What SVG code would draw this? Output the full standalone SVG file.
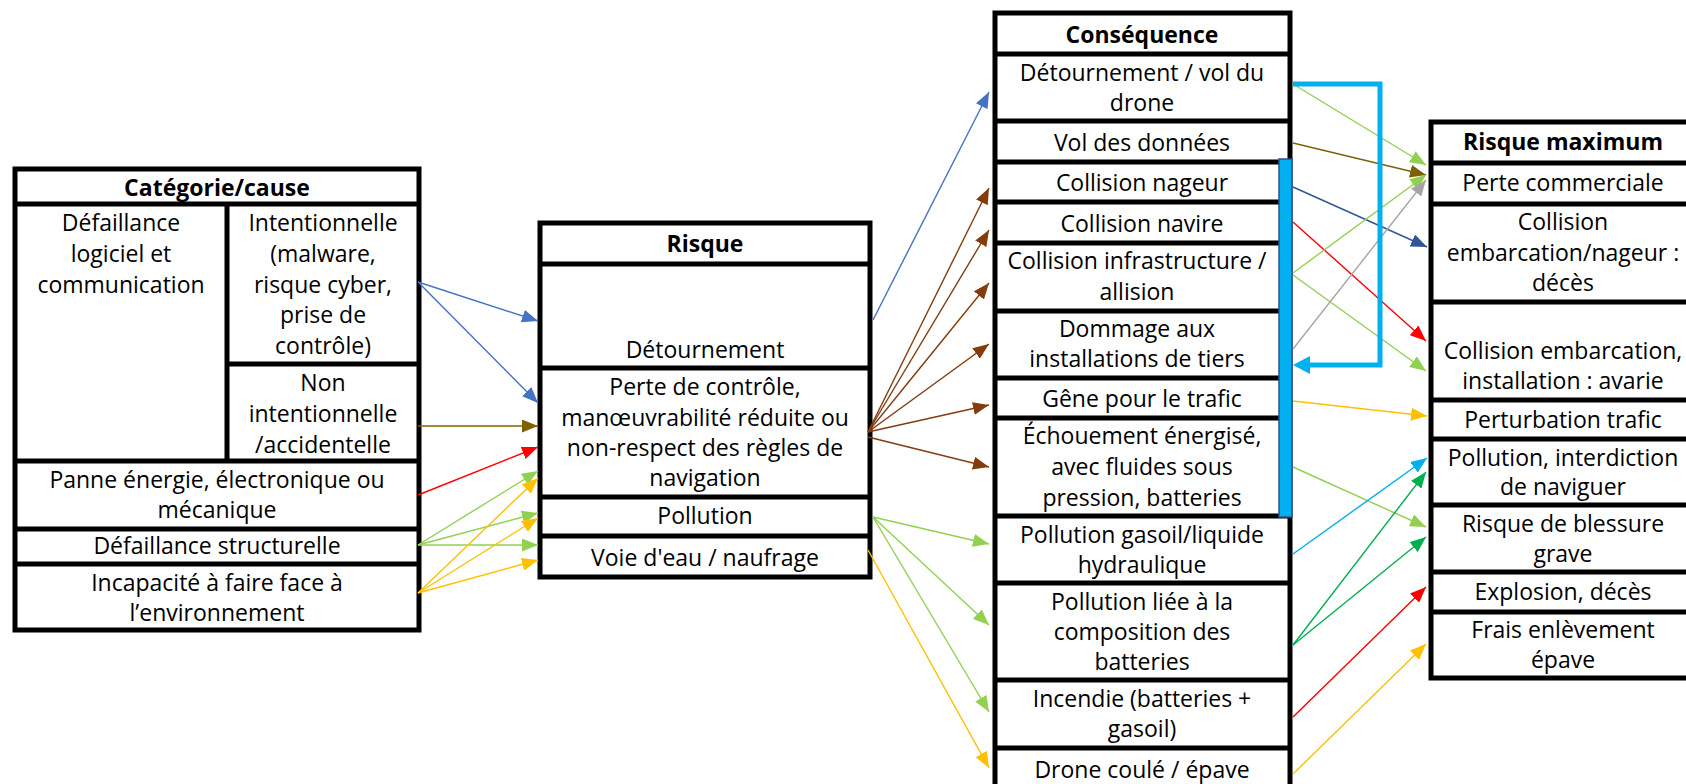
<svg xmlns="http://www.w3.org/2000/svg" width="1686" height="784" viewBox="0 0 1686 784">
<style>
text{font-family:"Open Sans","Noto Sans",sans-serif;font-size:23px;fill:#000;text-anchor:middle}
.h{font-weight:bold;font-size:23px}
.box{fill:#fff;stroke:#000;stroke-width:5}
.ln{stroke:#000;stroke-width:5;fill:none}
.c{fill:none;stroke-width:1.4}
</style>
<defs>
<marker id="a-blue" markerUnits="userSpaceOnUse" markerWidth="16" markerHeight="13" refX="16" refY="6.5" orient="auto"><path d="M0,0 L16,6.5 L0,13 z" fill="#4472C4"/></marker>
<marker id="a-olive" markerUnits="userSpaceOnUse" markerWidth="16" markerHeight="13" refX="16" refY="6.5" orient="auto"><path d="M0,0 L16,6.5 L0,13 z" fill="#7F6000"/></marker>
<marker id="a-red" markerUnits="userSpaceOnUse" markerWidth="16" markerHeight="13" refX="16" refY="6.5" orient="auto"><path d="M0,0 L16,6.5 L0,13 z" fill="#FF0000"/></marker>
<marker id="a-green" markerUnits="userSpaceOnUse" markerWidth="16" markerHeight="13" refX="16" refY="6.5" orient="auto"><path d="M0,0 L16,6.5 L0,13 z" fill="#92D050"/></marker>
<marker id="a-yellow" markerUnits="userSpaceOnUse" markerWidth="16" markerHeight="13" refX="16" refY="6.5" orient="auto"><path d="M0,0 L16,6.5 L0,13 z" fill="#FFC000"/></marker>
<marker id="a-brown" markerUnits="userSpaceOnUse" markerWidth="16" markerHeight="13" refX="16" refY="6.5" orient="auto"><path d="M0,0 L16,6.5 L0,13 z" fill="#843C0C"/></marker>
<marker id="a-dblue" markerUnits="userSpaceOnUse" markerWidth="16" markerHeight="13" refX="16" refY="6.5" orient="auto"><path d="M0,0 L16,6.5 L0,13 z" fill="#2F5597"/></marker>
<marker id="a-gray" markerUnits="userSpaceOnUse" markerWidth="16" markerHeight="13" refX="16" refY="6.5" orient="auto"><path d="M0,0 L16,6.5 L0,13 z" fill="#A5A5A5"/></marker>
<marker id="a-lblue" markerUnits="userSpaceOnUse" markerWidth="16" markerHeight="13" refX="16" refY="6.5" orient="auto"><path d="M0,0 L16,6.5 L0,13 z" fill="#00B0F0"/></marker>
<marker id="a-dgreen" markerUnits="userSpaceOnUse" markerWidth="16" markerHeight="13" refX="16" refY="6.5" orient="auto"><path d="M0,0 L16,6.5 L0,13 z" fill="#00B050"/></marker>
<marker id="a-fb" markerUnits="userSpaceOnUse" markerWidth="17" markerHeight="18" refX="0" refY="9" orient="auto"><path d="M0,0 L17,9 L0,18 z" fill="#00B0F0"/></marker>
</defs>

<g id="table-cause">
<rect class="box" x="15" y="169" width="404" height="461"/>
<path class="ln" d="M15,204H419M227,204V461M227,364H419M15,461H419M15,529H419M15,564H419"/>
<g id="cause-header"><text class="h" x="217" y="196">Catégorie/cause</text></g>
<g id="cause-logiciel"><text x="121" y="231">Défaillance</text><text x="121" y="262">logiciel et</text><text x="121" y="293">communication</text></g>
<g id="cause-intentionnelle"><text x="323" y="231">Intentionnelle</text><text x="323" y="262">(malware,</text><text x="323" y="293">risque cyber,</text><text x="323" y="323">prise de</text><text x="323" y="354">contrôle)</text></g>
<g id="cause-non-intentionnelle"><text x="323" y="391">Non</text><text x="323" y="422">intentionnelle</text><text x="323" y="453">/accidentelle</text></g>
<g id="cause-panne"><text x="217" y="488">Panne énergie, électronique ou</text><text x="217" y="518">mécanique</text></g>
<g id="cause-structurelle"><text x="217" y="554">Défaillance structurelle</text></g>
<g id="cause-environnement"><text x="217" y="591">Incapacité à faire face à</text><text x="217" y="621">l’environnement</text></g>
</g>

<g id="table-risque">
<rect class="box" x="540" y="223" width="330" height="354"/>
<path class="ln" d="M540,264H870M540,368H870M540,497H870M540,536H870"/>
<g id="risque-header"><text class="h" x="705" y="252">Risque</text></g>
<g id="risque-detournement"><text x="705" y="358">Détournement</text></g>
<g id="risque-perte"><text x="705" y="395">Perte de contrôle,</text><text x="705" y="426">manœuvrabilité réduite ou</text><text x="705" y="456">non-respect des règles de</text><text x="705" y="486">navigation</text></g>
<g id="risque-pollution"><text x="705" y="524">Pollution</text></g>
<g id="risque-voie"><text x="705" y="566">Voie d'eau / naufrage</text></g>
</g>

<g id="table-consequence">
<rect class="box" x="995" y="13" width="295" height="800"/>
<path class="ln" d="M995,54H1290M995,121H1290M995,162H1290M995,202H1290M995,243H1290M995,311H1290M995,378H1290M995,418H1290M995,516H1290M995,583H1290M995,680H1290M995,748H1290"/>
<g id="cons-header"><text class="h" x="1142" y="43">Conséquence</text></g>
<g id="cons-detournement"><text x="1142" y="81">Détournement / vol du</text><text x="1142" y="111">drone</text></g>
<g id="cons-vol-donnees"><text x="1142" y="151">Vol des données</text></g>
<g id="cons-collision-nageur"><text x="1142" y="191">Collision nageur</text></g>
<g id="cons-collision-navire"><text x="1142" y="232">Collision navire</text></g>
<g id="cons-collision-infra"><text x="1137" y="269">Collision infrastructure /</text><text x="1137" y="300">allision</text></g>
<g id="cons-dommage"><text x="1137" y="337">Dommage aux</text><text x="1137" y="367">installations de tiers</text></g>
<g id="cons-gene"><text x="1142" y="407">Gêne pour le trafic</text></g>
<g id="cons-echouement"><text x="1142" y="444">Échouement énergisé,</text><text x="1142" y="475">avec fluides sous</text><text x="1142" y="506">pression, batteries</text></g>
<g id="cons-pollution-gasoil"><text x="1142" y="543">Pollution gasoil/liquide</text><text x="1142" y="573">hydraulique</text></g>
<g id="cons-pollution-batteries"><text x="1142" y="610">Pollution liée à la</text><text x="1142" y="640">composition des</text><text x="1142" y="670">batteries</text></g>
<g id="cons-incendie"><text x="1142" y="707">Incendie (batteries +</text><text x="1142" y="737">gasoil)</text></g>
<g id="cons-epave"><text x="1142" y="778">Drone coulé / épave</text></g>
<rect id="cons-bar" x="1279" y="159" width="13" height="358" fill="#00B0F0" stroke="#2F528F" stroke-width="1.5"/>
</g>

<g id="table-risque-max">
<rect class="box" x="1431" y="122" width="270" height="556"/>
<path class="ln" d="M1431,163H1701M1431,204H1701M1431,302H1701M1431,400H1701M1431,439H1701M1431,505H1701M1431,572H1701M1431,612H1701"/>
<g id="rmax-header"><text class="h" x="1563" y="150">Risque maximum</text></g>
<g id="rmax-perte"><text x="1563" y="191">Perte commerciale</text></g>
<g id="rmax-deces"><text x="1563" y="230">Collision</text><text x="1563" y="261">embarcation/nageur :</text><text x="1563" y="291">décès</text></g>
<g id="rmax-avarie"><text x="1563" y="359">Collision embarcation,</text><text x="1563" y="389">installation : avarie</text></g>
<g id="rmax-trafic"><text x="1563" y="428">Perturbation trafic</text></g>
<g id="rmax-pollution"><text x="1563" y="466">Pollution, interdiction</text><text x="1563" y="495">de naviguer</text></g>
<g id="rmax-blessure"><text x="1563" y="532">Risque de blessure</text><text x="1563" y="562">grave</text></g>
<g id="rmax-explosion"><text x="1563" y="600">Explosion, décès</text></g>
<g id="rmax-epave"><text x="1563" y="638">Frais enlèvement</text><text x="1563" y="668">épave</text></g>
</g>

<g id="connectors">
<path class="c" stroke="#4472C4" marker-end="url(#a-blue)" d="M418,282L538,321"/>
<path class="c" stroke="#4472C4" marker-end="url(#a-blue)" d="M418,282L538,403"/>
<path class="c" stroke="#7F6000" marker-end="url(#a-olive)" d="M418,426L538,426"/>
<path class="c" stroke="#FF0000" marker-end="url(#a-red)" d="M418,495L538,447"/>
<path class="c" stroke="#92D050" marker-end="url(#a-green)" d="M418,545L538,471"/>
<path class="c" stroke="#92D050" marker-end="url(#a-green)" d="M418,545L538,513"/>
<path class="c" stroke="#92D050" marker-end="url(#a-green)" d="M418,545L538,545"/>
<path class="c" stroke="#FFC000" marker-end="url(#a-yellow)" d="M418,593L538,478"/>
<path class="c" stroke="#FFC000" marker-end="url(#a-yellow)" d="M418,593L538,518"/>
<path class="c" stroke="#FFC000" marker-end="url(#a-yellow)" d="M418,593L538,560"/>

<path class="c" stroke="#4472C4" marker-end="url(#a-blue)" d="M873,320L989,92"/>
<path class="c" stroke="#843C0C" marker-end="url(#a-brown)" d="M868,432L989,188"/>
<path class="c" stroke="#843C0C" marker-end="url(#a-brown)" d="M868,432L989,230"/>
<path class="c" stroke="#843C0C" marker-end="url(#a-brown)" d="M868,432L989,283"/>
<path class="c" stroke="#843C0C" marker-end="url(#a-brown)" d="M868,432L989,344"/>
<path class="c" stroke="#843C0C" marker-end="url(#a-brown)" d="M868,432L989,405"/>
<path class="c" stroke="#843C0C" marker-end="url(#a-brown)" d="M868,437L989,467"/>
<path class="c" stroke="#92D050" marker-end="url(#a-green)" d="M873,517L989,544"/>
<path class="c" stroke="#92D050" marker-end="url(#a-green)" d="M873,517L989,625"/>
<path class="c" stroke="#92D050" marker-end="url(#a-green)" d="M873,517L989,712"/>
<path class="c" stroke="#FFC000" marker-end="url(#a-yellow)" d="M868,550L989,768"/>

<path class="c" stroke="#92D050" marker-end="url(#a-green)" d="M1293,84L1426,165"/>
<path class="c" stroke="#7F6000" marker-end="url(#a-olive)" d="M1293,143L1426,175"/>
<path class="c" stroke="#2F5597" marker-end="url(#a-dblue)" d="M1293,187L1427,247"/>
<path class="c" stroke="#FF0000" marker-end="url(#a-red)" d="M1293,222L1426,341"/>
<path class="c" stroke="#92D050" marker-end="url(#a-green)" d="M1293,273L1426,175"/>
<path class="c" stroke="#92D050" marker-end="url(#a-green)" d="M1293,275L1426,371"/>
<path class="c" stroke="#A5A5A5" marker-end="url(#a-gray)" d="M1293,349L1426,180"/>
<path class="c" stroke="#FFC000" marker-end="url(#a-yellow)" d="M1293,401L1427,416"/>
<path class="c" stroke="#92D050" marker-end="url(#a-green)" d="M1293,467L1426,527"/>
<path class="c" stroke="#00B0F0" marker-end="url(#a-lblue)" d="M1293,554L1427,458"/>
<path class="c" stroke="#00B050" marker-end="url(#a-dgreen)" d="M1293,645L1426,472"/>
<path class="c" stroke="#00B050" marker-end="url(#a-dgreen)" d="M1293,645L1426,537"/>
<path class="c" stroke="#FF0000" marker-end="url(#a-red)" d="M1293,717L1426,587"/>
<path class="c" stroke="#FFC000" marker-end="url(#a-yellow)" d="M1293,774L1426,644"/>

<path fill="none" stroke="#00B0F0" stroke-width="5" marker-end="url(#a-fb)" d="M1293,84H1380V365H1310"/>
</g>
</svg>
